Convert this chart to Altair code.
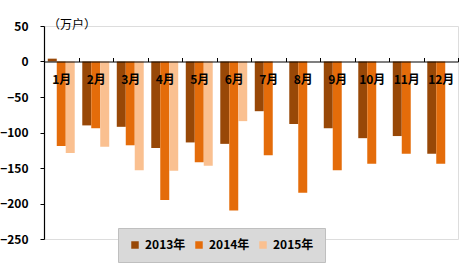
import altair as alt
import pandas as pd

months = ["1月", "2月", "3月", "4月", "5月", "6月", "7月", "8月", "9月", "10月", "11月", "12月"]
years = ["2013年", "2014年", "2015年"]
v2013 = [4, -90, -92, -122, -114, -116, -70, -88, -94, -108, -105, -130]
v2014 = [-119, -94, -118, -195, -142, -210, -132, -185, -153, -144, -130, -144]
v2015 = [-129, -120, -153, -154, -147, -84]
colors = ["#984807", "#E46C0A", "#FAC090"]

rows = []
for yr, vals in zip(years, [v2013, v2014, v2015]):
    for m, v in zip(months, vals):
        rows.append({"month": m, "year": yr, "value": v})
df = pd.DataFrame(rows)

FONT = "Noto Sans CJK SC"

bars = alt.Chart(df).mark_bar().encode(
    x=alt.X("month:N", sort=months,
            scale=alt.Scale(paddingInner=0, paddingOuter=0),
            axis=alt.Axis(orient="top", offset=-35.5, title=None, zindex=1,
                          domainColor="black", domainWidth=1.2,
                          tickColor="black", tickSize=4, tickBand="extent",
                          labelAngle=0, labelBaseline="top", labelPadding=-17,
                          labelFont=FONT, labelFontWeight="bold", labelFontSize=12,
                          labelColor="black")),
    xOffset=alt.XOffset("year:N", sort=years,
                        scale=alt.Scale(paddingInner=0, paddingOuter=0.42)),
    y=alt.Y("value:Q", scale=alt.Scale(domain=[-250, 50], nice=False),
            axis=alt.Axis(values=[50, 0, -50, -100, -150, -200, -250], title=None,
                          grid=False, domainColor="black", domainWidth=1.2, zindex=1,
                          tickColor="black", tickSize=4, labelPadding=12,
                          labelFont=FONT, labelFontWeight="bold", labelFontSize=12,
                          labelColor="black")),
    color=alt.Color("year:N", sort=years,
                    scale=alt.Scale(domain=years, range=colors),
                    legend=alt.Legend(title=None, orient="none", direction="horizontal",
                                      legendX=74, legendY=202,
                                      fillColor="#D9D9D9", strokeColor="#BFBFBF",
                                      padding=11, symbolType="square", symbolSize=56,
                                      symbolStrokeWidth=0, columnPadding=7, labelOffset=4,
                                      labelFont=FONT, labelFontWeight="bold",
                                      labelFontSize=12, labelColor="black")),
)

chart = bars.properties(
    width=414, height=213,
    padding={"left": 44, "top": 26, "right": 7, "bottom": 25},
    autosize=alt.AutoSizeParams(type="none"),
    title=alt.TitleParams("（万户）", anchor="start", frame="group", offset=0, dx=4, dy=24,
                          baseline="bottom", font=FONT, fontSize=12,
                          fontWeight="normal", color="black"),
).configure_view(stroke=None).configure(background="white")

chart.save("out.html", embed_options={"renderer": "svg", "actions": False})
